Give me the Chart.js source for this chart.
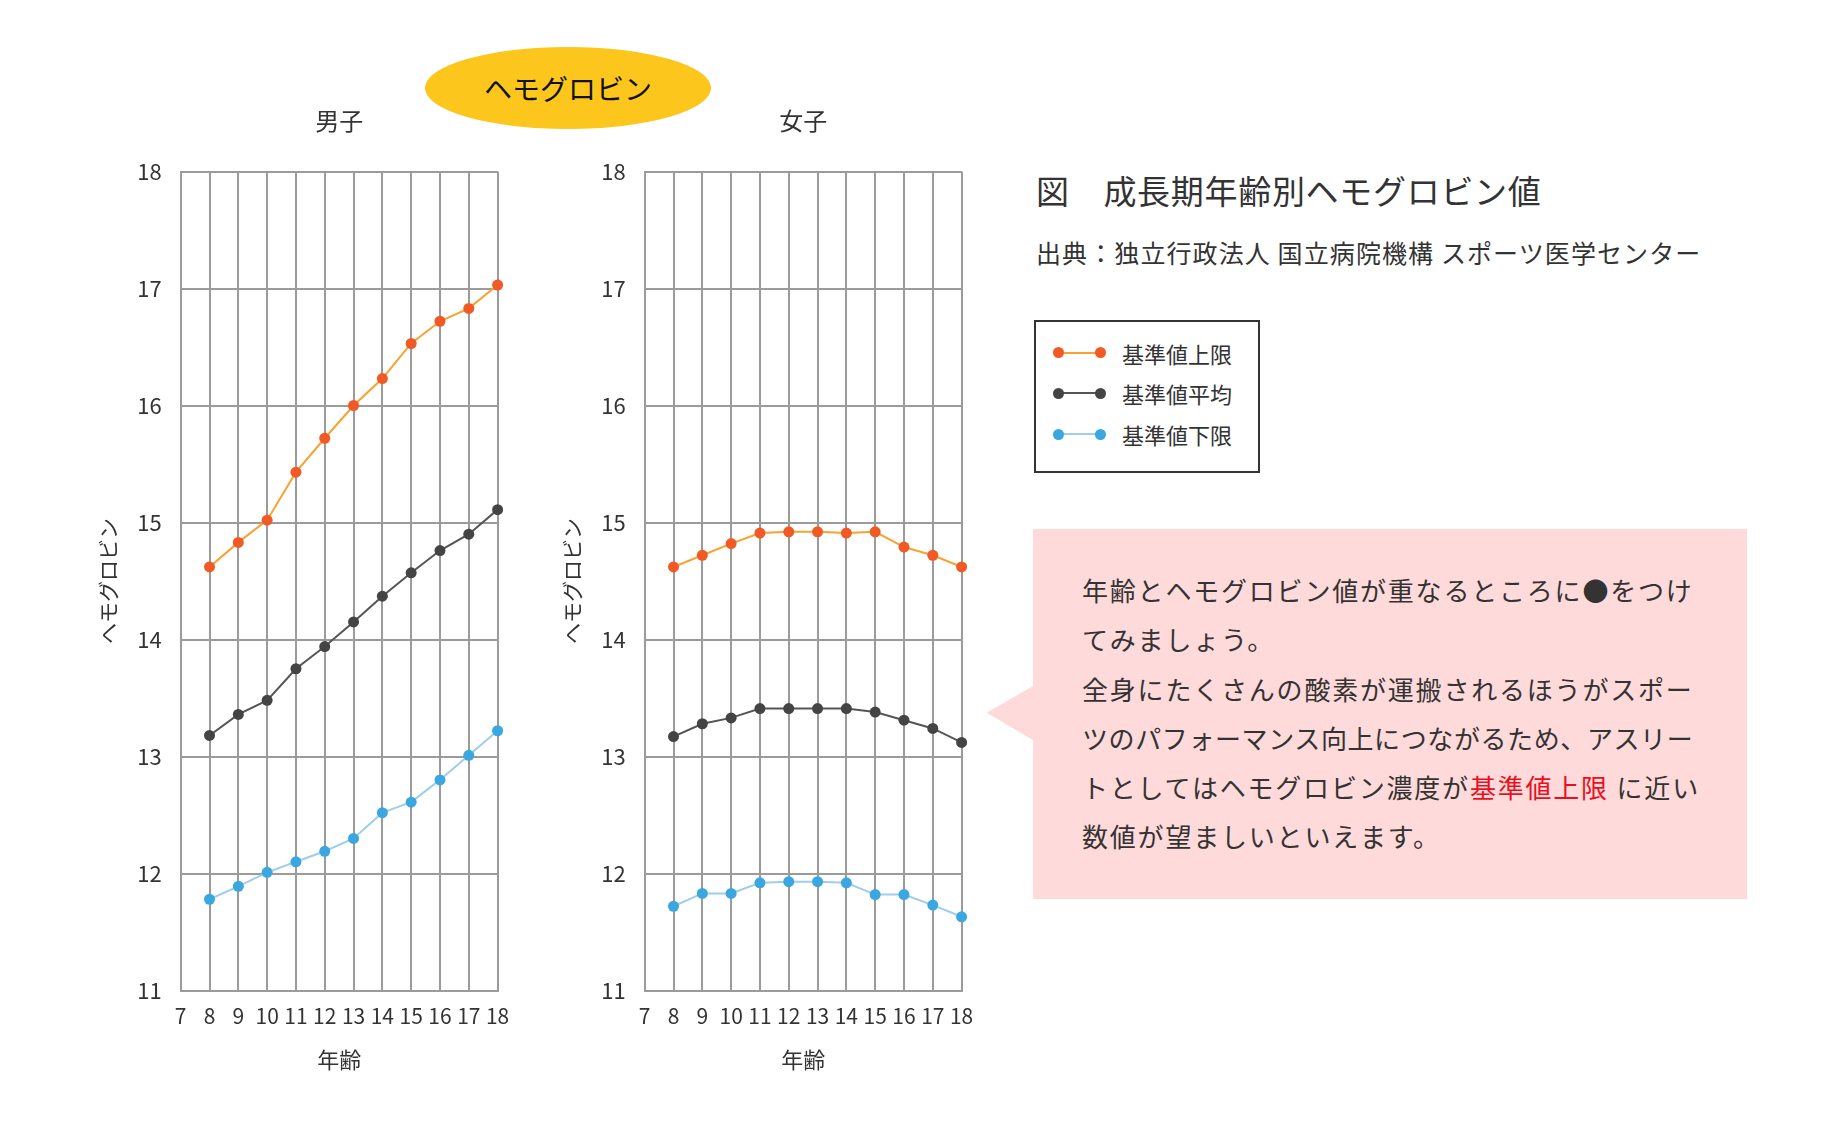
<!DOCTYPE html>
<html lang="ja">
<head>
<meta charset="utf-8">
<script src="https://cdn.jsdelivr.net/npm/chart.js@4.4.1/dist/chart.umd.min.js"></script>
<style>
html,body{margin:0;padding:0;background:#fff;}
body{width:1840px;height:1125px;position:relative;overflow:hidden;font-family:"Noto Sans CJK JP","Noto Sans",sans-serif;color:#333;}
.abs{position:absolute;}
#badge{left:425px;top:47px;width:286px;height:82px;border-radius:50%;background:#FCC61D;color:#111;font-size:28px;line-height:82px;text-align:center;}
#title{left:1036px;top:168px;font-size:33px;line-height:44px;letter-spacing:0.7px;white-space:nowrap;color:#333;}
#source{left:1036px;top:235px;font-size:25px;line-height:34px;letter-spacing:1.1px;white-space:nowrap;color:#333;}
#legend{left:1034px;top:320px;width:226px;height:153px;border:2px solid #333;box-sizing:border-box;}
.lg-line{position:absolute;height:2px;}
.lg-dot{position:absolute;width:11px;height:11px;border-radius:50%;}
.lg-text{position:absolute;font-size:22px;line-height:30px;white-space:nowrap;color:#333;}
#callout{left:1033px;top:529px;width:714px;height:370px;background:#FFDADA;}
#pointer{left:980px;top:680px;}
#note{left:1082px;top:565px;font-size:26px;line-height:49.3px;letter-spacing:1.8px;white-space:nowrap;color:#333;}
#note .red{color:#E8101E;}
#note .tight{letter-spacing:0.6px;}
</style>
</head>
<body>
<canvas id="boys" class="abs" width="440" height="990" style="left:80px;top:100px;"></canvas>
<canvas id="girls" class="abs" width="440" height="990" style="left:544px;top:100px;"></canvas>

<div id="badge" class="abs">ヘモグロビン</div>
<div id="title" class="abs">図　成長期年齢別ヘモグロビン値</div>
<div id="source" class="abs">出典：独立行政法人 国立病院機構 スポーツ医学センター</div>
<div id="legend" class="abs"></div>

<div id="callout" class="abs"></div>
<svg id="pointer" class="abs" width="60" height="70"><polygon points="53,6 6.5,32.7 53,60" fill="#FFDADA"/></svg>
<div id="note" class="abs">年齢とヘモグロビン値が重なるところに●をつけ<br>てみましょう。<br>全身にたくさんの酸素が運搬されるほうがスポー<br><span class="tight">ツのパフォーマンス向上につながるため、アスリー</span><br>トとしてはヘモグロビン濃度が<span class="red">基準値上限</span> に近い<br>数値が望ましいといえます。</div>

<script>
// ---- data ----
const ages = [8, 9, 10, 11, 12, 13, 14, 15, 16, 17, 18];
const seriesNames = ['基準値上限', '基準値平均', '基準値下限'];
const panelTitles = ['男子', '女子'];
const xTitle = '年齢';
const yTitle = 'ヘモグロビン';
const xMin = 7, xMax = 18;
const yMin = 11, yMax = 18;

const boysUpper = [14.62, 14.83, 15.02, 15.43, 15.72, 16.00, 16.23, 16.53, 16.72, 16.83, 17.03];
const boysMean  = [13.18, 13.36, 13.48, 13.75, 13.94, 14.15, 14.37, 14.57, 14.76, 14.90, 15.11];
const boysLower = [11.78, 11.89, 12.01, 12.10, 12.19, 12.30, 12.52, 12.61, 12.80, 13.01, 13.22];

const girlsUpper = [14.62, 14.72, 14.82, 14.91, 14.92, 14.92, 14.91, 14.92, 14.79, 14.72, 14.62];
const girlsMean  = [13.17, 13.28, 13.33, 13.41, 13.41, 13.41, 13.41, 13.38, 13.31, 13.24, 13.12];
const girlsLower = [11.72, 11.83, 11.83, 11.92, 11.93, 11.93, 11.92, 11.82, 11.82, 11.73, 11.63];

// ---- styles ----
const dotColors  = ['#F15A24', '#444444', '#3BA7E1'];
const lineColors = ['#F8A232', '#555555', '#9FCDEC'];
const gridColor = '#9B9B9B';
const textColor = '#333333';
const FONT = '"Noto Sans CJK JP", "Noto Sans", sans-serif';

Chart.defaults.font.family = FONT;
Chart.defaults.color = textColor;

function makeDatasets(groups) {
  return groups.map((vals, i) => ({
    label: seriesNames[i],
    data: ages.map((a, j) => ({x: a, y: vals[j]})),
    borderColor: lineColors[i],
    backgroundColor: dotColors[i],
    pointBackgroundColor: dotColors[i],
    pointBorderWidth: 0,
    pointRadius: 5.5,
    borderWidth: 2,
    tension: 0,
    fill: false,
    clip: false
  })).reverse();
}

function makeChart(id, title, groups) {
  return new Chart(document.getElementById(id), {
    type: 'line',
    data: { datasets: makeDatasets(groups) },
    options: {
      responsive: false,
      animation: false,
      devicePixelRatio: 1,
      layout: { padding: { left: 0, right: 22.4, top: 0, bottom: 0 } },
      plugins: {
        legend: { display: false },
        tooltip: { enabled: false },
        title: {
          display: true, text: title, fullSize: false,
          font: { size: 24, weight: 'normal' }, color: textColor,
          padding: { top: 6.6, bottom: 36.1 }
        }
      },
      scales: {
        x: {
          type: 'linear', min: xMin, max: xMax,
          ticks: { stepSize: 1, autoSkip: false, maxRotation: 0, padding: 12.9, font: { size: 21 }, color: textColor },
          grid: { color: gridColor, lineWidth: 2, drawTicks: false },
          border: { color: gridColor, width: 2 },
          title: { display: true, text: xTitle, font: { size: 22 }, color: textColor, padding: { top: 0, bottom: 16.8 } },
          afterFit: s => { s.height = 99.5; s.paddingLeft = 0; s.paddingRight = 0; }
        },
        y: {
          type: 'linear', min: yMin, max: yMax,
          ticks: { stepSize: 1, padding: 19, font: { size: 22 }, color: textColor },
          grid: { color: gridColor, lineWidth: 2, drawTicks: false },
          border: { color: gridColor, width: 2 },
          title: { display: true, text: yTitle, font: { size: 21 }, color: textColor, padding: { top: 15.4, bottom: 0 } },
          afterFit: s => { s.width = 100.7; s.paddingLeft = 0; s.paddingRight = 0; }
        }
      }
    }
  });
}

makeChart('boys', panelTitles[0], [boysUpper, boysMean, boysLower]);
makeChart('girls', panelTitles[1], [girlsUpper, girlsMean, girlsLower]);

// ---- legend (HTML, from the series arrays) ----
const legend = document.getElementById('legend');
const rowY = [32.7, 73.3, 114.3];   // centers relative to legend box
seriesNames.forEach((name, i) => {
  const cy = rowY[i];
  const line = document.createElement('div');
  line.className = 'lg-line';
  line.style.cssText = `left:${26 - 2}px;top:${cy - 2 - 1}px;width:42px;background:${lineColors[i]};`;
  legend.appendChild(line);
  [24, 66].forEach(cx => {
    const d = document.createElement('div');
    d.className = 'lg-dot';
    d.style.cssText = `left:${cx - 2 - 5.5}px;top:${cy - 2 - 5.5}px;background:${dotColors[i]};`;
    legend.appendChild(d);
  });
  const t = document.createElement('div');
  t.className = 'lg-text';
  t.textContent = name;
  t.style.cssText += `left:${88 - 2}px;top:${cy - 2 - 15}px;`;
  legend.appendChild(t);
});
</script>
</body>
</html>
